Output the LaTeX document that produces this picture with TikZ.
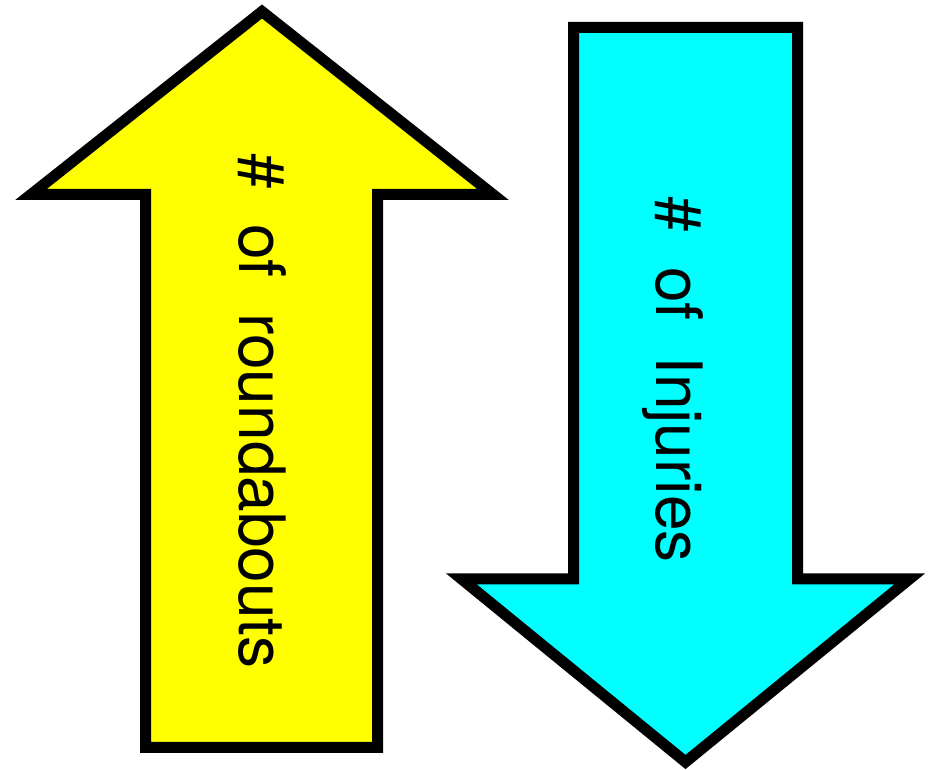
\documentclass[tikz,border=0pt]{standalone}
\usepackage{fontspec}
\setmainfont{TeX Gyre Heros}
\definecolor{arrowyellow}{HTML}{FFFF00}
\definecolor{arrowcyan}{HTML}{00FFFF}
\begin{document}
\begin{tikzpicture}[x=1pt,y=1pt,
  arrowshape/.style={draw=black,line width=11pt,line join=miter},
  label/.style={rotate=-90,anchor=base west,inner sep=0pt,font=\fontsize{64}{76}\selectfont}]
\useasboundingbox (0,0) rectangle (932,770);
% yellow up arrow (y = 770 - pixel)
\draw[arrowshape,fill=arrowyellow]
  (262,758.5) -- (493,575.5) -- (377.5,575.5) -- (377.5,22.5)
  -- (145.5,22.5) -- (145.5,575.5) -- (31,575.5) -- cycle;
% cyan down arrow
\draw[arrowshape,fill=arrowcyan]
  (573.5,742.5) -- (797.5,742.5) -- (797.5,191) -- (909.5,191)
  -- (685.5,8) -- (461.5,191) -- (573.5,191) -- cycle;
\node[label] (yt) at (239,617) {\#\kern0.556em of\kern0.556em roundabouts};
\node[label] (ct) at (656,574) {\#\kern0.556em of\kern0.556em Injuries};
\end{tikzpicture}
\end{document}
